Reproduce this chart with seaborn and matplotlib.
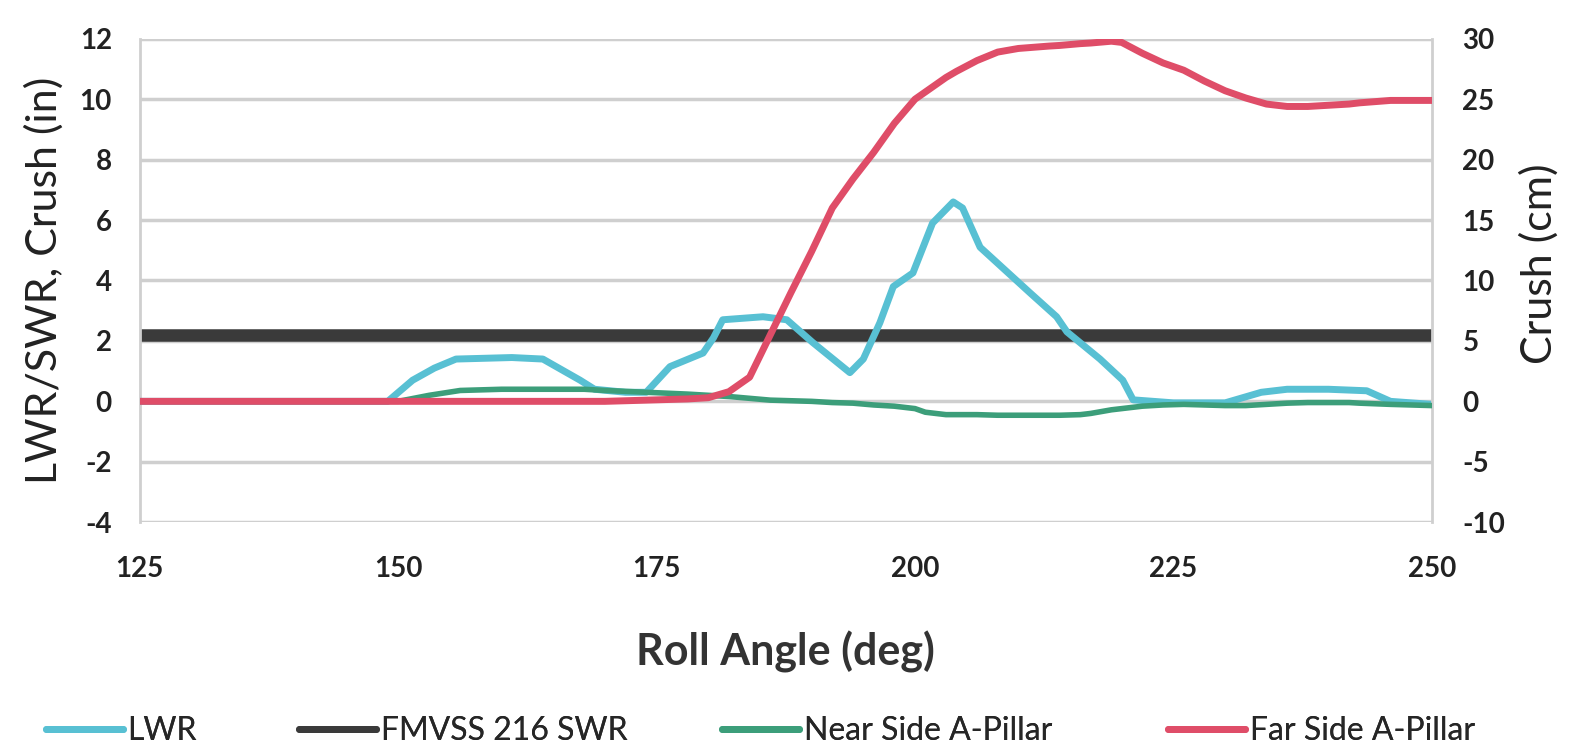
import numpy as np
import pandas as pd
import seaborn as sns
import matplotlib.pyplot as plt

# LWR (in)
lwr_angle = [125, 149, 151.4, 153.5, 155.6, 161, 164, 167.6, 169, 172, 174, 176.3, 179.5, 180.5, 181.4,
             185.3, 187.6, 190.1, 193.7, 195, 196.6, 197.9, 199.8, 201.7, 203.7, 204.6, 206.3, 207.9,
             211.1, 213.7, 214.7, 217.9, 220.1, 221.1, 225, 230, 233.5, 236, 240, 243.7, 246, 250]
lwr = [0, 0, 0.7, 1.1, 1.4, 1.45, 1.4, 0.7, 0.4, 0.3, 0.3, 1.15, 1.6, 2.1, 2.7,
       2.8, 2.7, 1.95, 0.95, 1.4, 2.6, 3.8, 4.25, 5.9, 6.6, 6.4, 5.1, 4.6,
       3.6, 2.8, 2.3, 1.4, 0.7, 0.05, -0.05, -0.05, 0.3, 0.4, 0.4, 0.35, 0.0, -0.1]

# FMVSS 216 SWR level (in)
swr_angle = [125, 250]
swr = [2.2, 2.2]

# crush (cm), right axis
crush_angle = [125, 150, 153, 156, 160, 168, 170, 174, 178, 180, 182, 184, 186, 188, 190, 192, 194,
               196, 198, 200, 201, 202, 203, 204, 206, 208, 210, 213, 214, 216, 217, 219, 220, 222,
               224, 226, 228, 230, 232, 234, 236, 238, 240, 242, 243, 246, 250]
near_side = [0, 0, 0.5, 0.9, 1.0, 1.0, 0.9, 0.75, 0.6, 0.5, 0.4, 0.25, 0.1, 0.05, 0.0, -0.1, -0.15,
             -0.3, -0.4, -0.6, -0.9, -1.0, -1.1, -1.1, -1.1, -1.15, -1.15, -1.15, -1.15, -1.1, -1.0, -0.7, -0.6, -0.4,
             -0.3, -0.25, -0.3, -0.35, -0.35, -0.25, -0.15, -0.1, -0.1, -0.1, -0.15, -0.25, -0.35]
far_side = [0, 0, 0, 0, 0, 0, 0, 0.1, 0.2, 0.3, 0.8, 2.0, 5.5, 9.0, 12.4, 16.0, 18.4,
            20.6, 23.0, 25.0, 25.6, 26.2, 26.8, 27.3, 28.2, 28.9, 29.2, 29.4, 29.45, 29.6, 29.65, 29.8, 29.7, 28.8,
            28.0, 27.4, 26.5, 25.7, 25.1, 24.6, 24.4, 24.4, 24.5, 24.6, 24.7, 24.9, 24.9]

sns.set_style("white")
plt.rcParams['font.family'] = ['Lato', 'DejaVu Sans']
plt.rcParams['axes.unicode_minus'] = False

fig = plt.figure(figsize=(15.7, 7.46), dpi=100)
ax = fig.add_axes([0.089, 0.30, 0.823, 0.648])
ax2 = ax.twinx()

lwr_df = pd.DataFrame({"angle": lwr_angle, "val": lwr})
swr_df = pd.DataFrame({"angle": swr_angle, "val": swr})
crush_df = pd.DataFrame({"angle": crush_angle, "near": near_side, "far": far_side})

sns.lineplot(data=swr_df, x="angle", y="val", ax=ax, color="#3a3a3a", lw=9, label="FMVSS 216 SWR", zorder=2)
sns.lineplot(data=lwr_df, x="angle", y="val", ax=ax, color="#58c0d3", lw=5, sort=False, label="LWR", zorder=4)
sns.lineplot(data=crush_df, x="angle", y="near", ax=ax2, color="#3c9e7a", lw=4, sort=False,
             label="Near Side A-Pillar", zorder=3)
sns.lineplot(data=crush_df, x="angle", y="far", ax=ax2, color="#df4d68", lw=5, sort=False,
             label="Far Side A-Pillar", zorder=4)

ax.set_xlim(125, 250)
ax.set_ylim(-4, 12)
ax2.set_ylim(-10, 30)
ax.set_xticks(np.arange(125, 251, 25))
ax.set_yticks(np.arange(-4, 13, 2))
ax2.set_yticks(np.arange(-10, 31, 5))
ax.yaxis.grid(True, color="#cfcfcf", lw=2.5)
ax.xaxis.grid(False)
ax2.grid(False)

for a in (ax, ax2):
    for s in a.spines.values():
        s.set_visible(False)
ax.spines['left'].set_visible(True)
ax.spines['left'].set_color("#cfcfcf")
ax.spines['left'].set_linewidth(2)
ax2.spines['right'].set_visible(True)
ax2.spines['right'].set_color("#cfcfcf")
ax2.spines['right'].set_linewidth(2)

ax.tick_params(axis='x', length=8, color="#cfcfcf", width=1.5, labelsize=20, pad=16, labelcolor="#222222")
ax.tick_params(axis='y', length=0, labelsize=20, pad=20, labelcolor="#222222")
ax2.tick_params(axis='y', length=0, labelsize=20, pad=22, labelcolor="#222222")
for lab in ax.get_xticklabels() + ax.get_yticklabels() + ax2.get_yticklabels():
    lab.set_fontweight("bold")

ax.set_xlabel("Roll Angle (deg)", fontsize=31, fontweight="bold", color="#333333")
ax.xaxis.set_label_coords(0.5, -0.224)
ax.set_ylabel("LWR/SWR, Crush (in)", fontsize=31, color="#222222")
ax.yaxis.set_label_coords(-0.059, 0.5)
ax2.set_ylabel("Crush (cm)", fontsize=31, color="#222222")
ax2.yaxis.set_label_coords(1.068, 0.534)

h1, l1 = ax.get_legend_handles_labels()
h2, l2 = ax2.get_legend_handles_labels()
ax.get_legend().remove()
ax2.get_legend().remove()
handles = {l: h for h, l in zip(h1 + h2, l1 + l2)}
order = ["LWR", "FMVSS 216 SWR", "Near Side A-Pillar", "Far Side A-Pillar"]
leg_x = [38, 291, 714, 1160]
for name, px in zip(order, leg_x):
    h = handles[name]
    proxy = plt.Line2D([], [], color=h.get_color(), lw=5)
    lg = fig.legend([proxy], [name], loc="center left", bbox_to_anchor=(px / 1570 - 0.003, 1 - 731 / 746),
                    frameon=False, fontsize=23, handlelength=2.4, handletextpad=0.15, borderaxespad=0)
    fig.add_artist(lg)

fig.savefig("out.png", dpi=100, facecolor="white")
